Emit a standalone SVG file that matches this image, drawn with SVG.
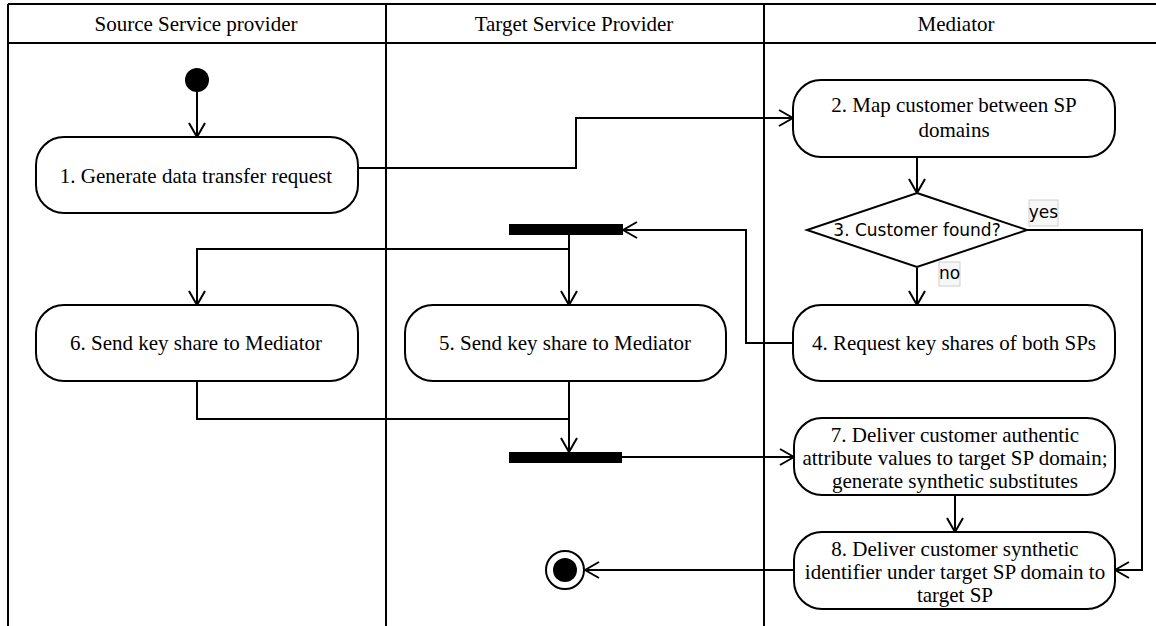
<svg xmlns="http://www.w3.org/2000/svg" width="1156" height="626" viewBox="0 0 1156 626">
  <style>
    .lane { stroke: #000; stroke-width: 2; fill: none; }
    .head { font-family: "Liberation Serif", "Times New Roman", serif; font-size: 21px; fill: #000; text-anchor: middle; dominant-baseline: central; }
    .act { fill: #fff; stroke: #000; stroke-width: 2; }
    .lbl { font-family: "Liberation Serif", "Times New Roman", serif; font-size: 21px; fill: #000; text-anchor: middle; dominant-baseline: central; }
    .sans { font-family: "DejaVu Sans", "Noto Sans", sans-serif; font-size: 17px; fill: #000; text-anchor: middle; dominant-baseline: central; }
    .guard { fill: #f7f7f7; stroke: #cfcfcf; stroke-width: 1; }
    .edge { stroke: #000; stroke-width: 2; fill: none; marker-end: url(#open); }
    .plain { stroke: #000; stroke-width: 2; fill: none; }
    .bar { fill: #000; }
  </style>
  <defs>
    <marker id="open" viewBox="0 0 16 18" refX="15" refY="9" markerWidth="16" markerHeight="18" markerUnits="userSpaceOnUse" orient="auto">
      <path d="M1,1 L15,9 L1,17" fill="none" stroke="#000" stroke-width="2"/>
    </marker>
  </defs>

  <rect x="0" y="0" width="1156" height="626" fill="#fff"/>

  <!-- swimlanes -->
  <g id="lanes">
    <line class="lane" x1="8" y1="4" x2="1156" y2="4"/>
    <line class="lane" x1="8" y1="43" x2="1156" y2="43"/>
    <line class="lane" x1="8" y1="4" x2="8" y2="626"/>
    <line class="lane" x1="386" y1="4" x2="386" y2="626"/>
    <line class="lane" x1="764" y1="4" x2="764" y2="626"/>
    <text class="head" x="196" y="24">Source Service provider</text>
    <text class="head" x="574" y="24">Target Service Provider</text>
    <text class="head" x="956" y="24">Mediator</text>
  </g>

  <!-- connectors -->
  <g id="connectors">
    <line class="edge" x1="197" y1="92" x2="197" y2="137"/>
    <polyline class="edge" points="358,168 576,168 576,118 793,118"/>
    <line class="edge" x1="917" y1="157" x2="917" y2="193"/>
    <line class="edge" x1="917" y1="268" x2="917" y2="305"/>
    <polyline class="edge" points="1027,230 1142,230 1142,570 1115,570"/>
    <polyline class="edge" points="793,343 746,343 746,230 623,230"/>
    <line class="edge" x1="569" y1="235" x2="569" y2="305"/>
    <polyline class="edge" points="569,249 197,249 197,305"/>
    <polyline class="plain" points="197,381 197,419 569,419"/>
    <line class="edge" x1="569" y1="381" x2="569" y2="452"/>
    <line class="edge" x1="622" y1="457" x2="794" y2="457"/>
    <line class="edge" x1="955" y1="495" x2="955" y2="532"/>
    <line class="edge" x1="794" y1="570" x2="585" y2="570"/>
  </g>

  <!-- nodes -->
  <g id="start">
    <circle cx="197" cy="80" r="12" fill="#000"/>
  </g>

  <g id="n1">
    <rect class="act" x="36" y="137" width="322" height="76" rx="28"/>
    <text class="lbl" x="196" y="176">1. Generate data transfer request</text>
  </g>

  <g id="n2">
    <rect class="act" x="793" y="80" width="322" height="77" rx="28"/>
    <text class="lbl" x="954" y="105">2. Map customer between SP</text>
    <text class="lbl" x="954" y="130">domains</text>
  </g>

  <g id="n3">
    <polygon class="act" points="917,193 1027,230 917,267 807,230"/>
    <text class="sans" x="917" y="230">3. Customer found?</text>
  </g>

  <g id="guard-yes">
    <rect class="guard" x="1029" y="200" width="29" height="26"/>
    <text class="sans" x="1043.5" y="212">yes</text>
  </g>

  <g id="guard-no">
    <rect class="guard" x="939" y="262" width="21" height="24"/>
    <text class="sans" x="949.5" y="273">no</text>
  </g>

  <g id="n4">
    <rect class="act" x="793" y="305" width="322" height="76" rx="28"/>
    <text class="lbl" x="954" y="343">4. Request key shares of both SPs</text>
  </g>

  <g id="fork">
    <rect class="bar" x="509" y="224" width="114" height="11"/>
  </g>

  <g id="n6">
    <rect class="act" x="36" y="305" width="322" height="76" rx="28"/>
    <text class="lbl" x="196" y="343">6. Send key share to Mediator</text>
  </g>

  <g id="n5">
    <rect class="act" x="405" y="305" width="321" height="76" rx="28"/>
    <text class="lbl" x="565" y="343">5. Send key share to Mediator</text>
  </g>

  <g id="join">
    <rect class="bar" x="509" y="452" width="113" height="11"/>
  </g>

  <g id="n7">
    <rect class="act" x="794" y="418" width="321" height="77" rx="28"/>
    <text class="lbl" x="955" y="435">7. Deliver customer authentic</text>
    <text class="lbl" x="955" y="458">attribute values to target SP domain;</text>
    <text class="lbl" x="955" y="481">generate synthetic substitutes</text>
  </g>

  <g id="n8">
    <rect class="act" x="794" y="532" width="321" height="77" rx="28"/>
    <text class="lbl" x="955" y="549">8. Deliver customer synthetic</text>
    <text class="lbl" x="955" y="572">identifier under target SP domain to</text>
    <text class="lbl" x="955" y="595">target SP</text>
  </g>

  <g id="end">
    <circle cx="565" cy="570" r="19" fill="#fff" stroke="#000" stroke-width="2"/>
    <circle cx="565" cy="570" r="12" fill="#000"/>
  </g>
</svg>
